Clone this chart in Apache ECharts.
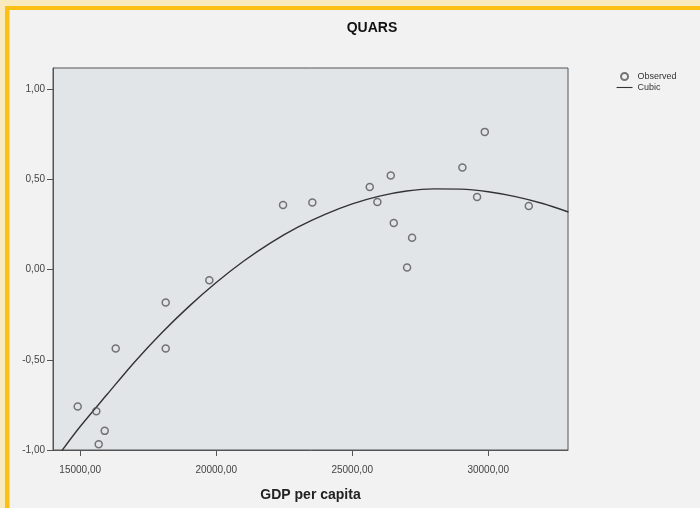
<!DOCTYPE html>
<html>
<head>
<meta charset="utf-8">
<title>QUARS</title>
<script src="https://cdn.jsdelivr.net/npm/echarts@6/dist/echarts.min.js"></script>
<style>
  html, body { margin: 0; padding: 0; background: #f2f2f2; }
  #chart { width: 700px; height: 508px; }
</style>
</head>
<body>
<div id="chart"></div>
<script>
// Observed QUARS values against GDP per capita
const gdpPerCapita = [14908, 15592, 15901, 15680, 16305, 18143, 18143, 19746, 22456, 23533,
                      25643, 25923, 26415, 26526, 27199, 27015, 29048, 29871, 29588, 31489];
const quars = [-0.759, -0.785, -0.894, -0.968, -0.437, -0.183, -0.437, -0.059, 0.358, 0.371,
               0.458, 0.374, 0.521, 0.258, 0.176, 0.011, 0.565, 0.763, 0.402, 0.352];

// Fitted cubic curve, sampled along the GDP axis
const cubicX = [14320, 15000, 16000, 17000, 18000, 19000, 20000, 21000, 22000, 23000,
                24000, 25000, 26000, 27000, 28000, 29000, 30000, 31000, 32000, 32945];
const cubicY = [-1.005, -0.870, -0.690, -0.512, -0.350, -0.204, -0.072, 0.046, 0.148, 0.235,
                0.306, 0.364, 0.407, 0.435, 0.447, 0.446, 0.431, 0.404, 0.366, 0.319];

// Axis tick values
const xTicks = [15000, 20000, 25000, 30000];
const yTicks = [-1, -0.5, 0, 0.5, 1];

const xMin = 14000, xMax = 32930;
const yMin = -1, yMax = 1.117;

const comma = (v) => v.toFixed(2).replace('.', ',');
const font = 'Arial, "Liberation Sans", sans-serif';

const chart = echarts.init(document.getElementById('chart'));
chart.setOption({
  backgroundColor: '#f2f2f2',
  animation: false,
  textStyle: { fontFamily: font },
  graphic: [
    { type: 'rect', shape: { x: 0, y: 0, width: 700, height: 6 }, style: { fill: '#f8eabd' }, z: 0 },
    { type: 'rect', shape: { x: 0, y: 0, width: 5, height: 508 }, style: { fill: '#f8eabd' }, z: 0 },
    { type: 'rect', shape: { x: 5, y: 6, width: 695, height: 4 }, style: { fill: '#fcbf14' }, z: 0 },
    { type: 'rect', shape: { x: 5, y: 6, width: 4.5, height: 502 }, style: { fill: '#fcbf14' }, z: 0 }
  ],
  title: {
    text: 'QUARS',
    left: 367,
    top: 16,
    textAlign: 'center',
    textStyle: { fontSize: 14, fontWeight: 'bold', color: '#111', fontFamily: font }
  },
  legend: {
    orient: 'vertical',
    left: 611,
    top: 67,
    itemWidth: 16,
    itemHeight: 7,
    itemGap: 2,
    textStyle: { fontSize: 9, color: '#333', fontFamily: font },
    data: [
      { name: 'Observed' },
      { name: 'Cubic', itemStyle: { opacity: 0 }, lineStyle: { width: 1.1 } }
    ]
  },
  grid: {
    left: 53, right: 132, top: 68, bottom: 58,
    show: true,
    backgroundColor: '#e2e5e8',
    borderColor: '#555',
    borderWidth: 1
  },
  xAxis: {
    type: 'value',
    min: xMin, max: xMax,
    name: 'GDP per capita',
    nameLocation: 'middle',
    nameGap: 38,
    nameTextStyle: { fontSize: 14, fontWeight: 'bold', color: '#222', fontFamily: font },
    splitLine: { show: false },
    axisLine: { show: true, onZero: false, lineStyle: { color: '#555', width: 1 } },
    axisTick: { show: true, length: 6, customValues: xTicks, lineStyle: { color: '#555' } },
    axisLabel: { customValues: xTicks, formatter: comma, fontSize: 10, color: '#444', margin: 15 }
  },
  yAxis: {
    type: 'value',
    min: yMin, max: yMax,
    splitLine: { show: false },
    axisLine: { show: true, onZero: false, lineStyle: { color: '#555', width: 1 } },
    axisTick: { show: true, length: 6, customValues: yTicks, lineStyle: { color: '#555' } },
    axisLabel: { customValues: yTicks, formatter: comma, fontSize: 10, color: '#444', margin: 8 }
  },
  series: [
    {
      name: 'Observed',
      type: 'scatter',
      data: gdpPerCapita.map((x, i) => [x, quars[i]]),
      symbol: 'circle',
      symbolSize: 7,
      itemStyle: { color: 'rgba(0,0,0,0)', borderColor: '#555', borderWidth: 1.5 },
      z: 3
    },
    {
      name: 'Cubic',
      type: 'line',
      data: cubicX.map((x, i) => [x, cubicY[i]]),
      symbol: 'none',
      smooth: 0.3,
      clip: true,
      lineStyle: { color: '#333', width: 1.4 },
      itemStyle: { color: '#333' },
      z: 2
    }
  ]
});
</script>
</body>
</html>
